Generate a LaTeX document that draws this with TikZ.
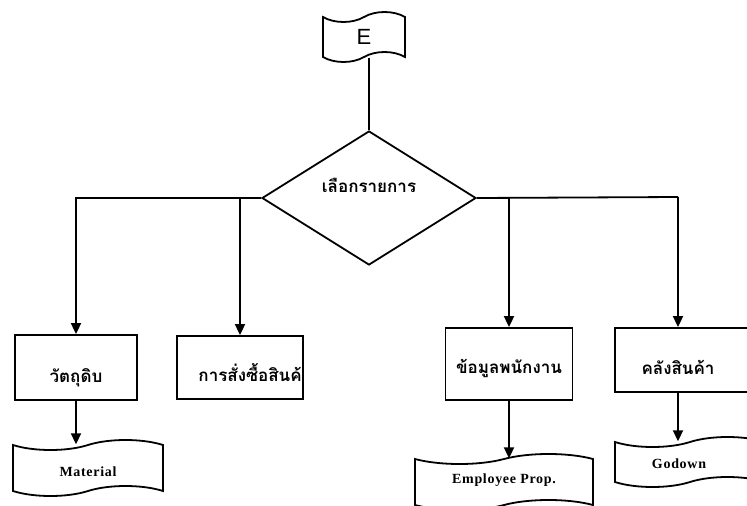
\documentclass[tikz,border=0pt]{standalone}
\usepackage{fontspec}
\setmainfont{Liberation Serif}
\newfontfamily\thaifont[Script=Thai]{Loma}
\newfontfamily\flagfont{Liberation Sans}
\newfontfamily\tapefont[LetterSpace=5]{Liberation Serif}
\usetikzlibrary{shapes.geometric,shapes.symbols,arrows.meta}

% shift a label up or down without changing the box size used for centring
\newcommand{\shiftlabel}[2]{\raisebox{#1}[0pt][0pt]{#2}}

\begin{document}
\begin{tikzpicture}[x=1pt,y=-1pt,
  link/.style={line width=1.8pt},
  thai/.style={font=\thaifont\bfseries\fontsize{17}{20}\selectfont},
  box/.style={draw, link, inner sep=0pt, thai},
  tapebox/.style={draw, tape, link, tape bend height=10pt, inner sep=0pt,
    font=\tapefont\bfseries\fontsize{14}{16}\selectfont},
  arr/.style={link, -{Triangle[length=11pt,width=10pt]}}]

\useasboundingbox (0,0) rectangle (747,506);
\clip (0,0) rectangle (747,506);

% start flag and decision
\node[tapebox, minimum width=82, minimum height=50,
      font=\flagfont\fontsize{22}{24}\selectfont] (E) at (364,37) {E};
\node[diamond, draw, link, minimum width=214, minimum height=134, inner sep=0pt, thai]
      (D) at (369,198) {\shiftlabel{6pt}{เลือกรายการ}};

% menu boxes
\node[box, minimum width=122, minimum height=65] (b1) at (76,367.5) {\shiftlabel{-14.5pt}{วัตถุดิบ}};
\node[box, minimum width=126, minimum height=63,
      path picture={\node[anchor=west, inner sep=0pt, thai]
        at ([xshift=14pt,yshift=-5pt]path picture bounding box.west) {การสั่งซื้อสินค้า};}]
      (b2) at (240,367.5) {};
\node[box, minimum width=127, minimum height=72] (b3) at (509,364) {\shiftlabel{-9pt}{ข้อมูลพนักงาน}};
\node[box, minimum width=140, minimum height=64] (b4) at (685,360) {\hspace*{-14pt}\shiftlabel{-14pt}{คลังสินค้า}};

% data tapes
\node[tapebox, minimum width=150, minimum height=56] (t1) at (88,468) {\shiftlabel{-8pt}{Material}};
\node[tapebox, minimum width=178, minimum height=56] (t3) at (504,482) {\shiftlabel{-1pt}{Employee Prop.}};
\node[tapebox, minimum width=150, minimum height=50] (t4) at (690,462) {\hspace*{-22pt}\shiftlabel{-6pt}{Godown}};

% connectors
\draw[link] (E.south -| D.north) -- (D.north);
\draw[arr] (D.west) -| (b1.north);
\draw[arr] (D.west -| b2.north) -- (b2.north);
\coordinate (j4) at (678,197);
\draw[link] (D.east) -- (j4);
\draw[arr] (D.east -| b3.north) -- (b3.north);
\draw[arr] (j4) -- (j4 |- b4.north);

\draw[arr] (b1.south) -- (b1.south |- t1.north);
\draw[arr] (b3.south) -- (b3.south |- t3.north);
\draw[arr] (j4 |- b4.south) -- (j4 |- t4.north);
\end{tikzpicture}
\end{document}
